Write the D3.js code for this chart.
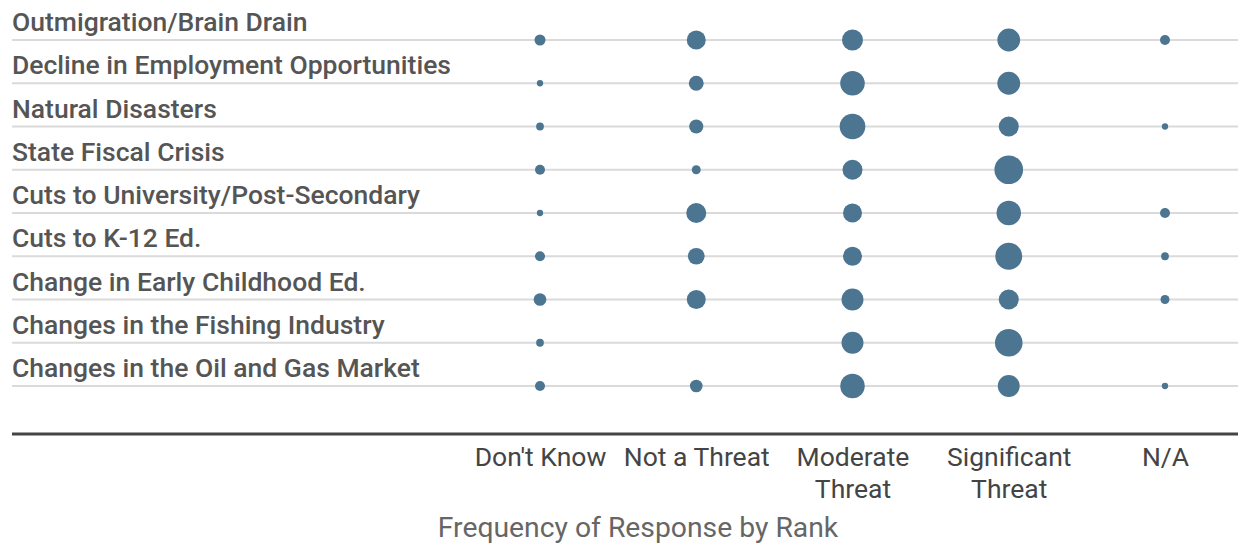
<!DOCTYPE html>
<html>
<head>
<meta charset="utf-8">
<script src="https://cdn.jsdelivr.net/npm/d3@7"></script>
<style>
  body { margin: 0; background: #fff; }
  svg { display: block; font-family: Roboto, sans-serif; }
</style>
</head>
<body>
<div id="chart"></div>
<script>
// threats, top to bottom
const threats = [
    "Outmigration/Brain Drain",
    "Decline in Employment Opportunities",
    "Natural Disasters",
    "State Fiscal Crisis",
    "Cuts to University/Post-Secondary",
    "Cuts to K-12 Ed.",
    "Change in Early Childhood Ed.",
    "Changes in the Fishing Industry",
    "Changes in the Oil and Gas Market"
];

const ranks = ["Don't Know", "Not a Threat", "Moderate Threat", "Significant Threat", "N/A"];
const rankLabels = [["Don't Know"], ["Not a Threat"], ["Moderate", "Threat"], ["Significant", "Threat"], ["N/A"]];

// frequency of response, one array per rank (same order as threats)
const dontKnow    = [3, 1, 1.5, 2.5, 1, 2.5, 4, 1.5, 2.5];
const notThreat   = [9, 5.5, 5, 2, 10, 7, 9, 0, 4];
const moderate    = [11, 15, 16.5, 10, 9, 9, 12, 12, 15];
const significant = [13, 13, 10, 20.5, 15, 18, 10, 19, 12];
const notApplic   = [2.5, 0, 1, 0, 2.5, 1.5, 2, 0, 1];

const series = [dontKnow, notThreat, moderate, significant, notApplic];

const width = 1238, height = 546;

const svg = d3.select("#chart")
    .append("svg")
    .attr("width", width)
    .attr("height", height);

let x = d3.scalePoint()
    .domain(ranks)
    .range([540, 1165]);

let y = d3.scalePoint()
    .domain(threats)
    .range([40, 386]);

let r = d3.scaleSqrt()
    .domain([0, 21])
    .range([0, 14.5]);

// row lines
svg.append("g")
    .selectAll("line")
    .data(threats)
    .join("line")
    .attr("x1", 12)
    .attr("x2", width)
    .attr("y1", d => y(d))
    .attr("y2", d => y(d))
    .attr("stroke", "#dadada")
    .attr("stroke-width", 2);

// row labels sit above the line
svg.append("g")
    .selectAll("text")
    .data(threats)
    .join("text")
    .attr("x", 12)
    .attr("y", d => y(d) - 9)
    .attr("font-size", 26.5)
    .attr("font-weight", 500)
    .attr("fill", "#555")
    .text(d => d);

// bubbles
let cells = [];
ranks.forEach((rk, j) => {
    threats.forEach((t, i) => {
        if (series[j][i] > 0) cells.push({ rank: rk, threat: t, value: series[j][i] });
    });
});

svg.append("g")
    .selectAll("circle")
    .data(cells)
    .join("circle")
    .attr("cx", d => x(d.rank))
    .attr("cy", d => y(d.threat))
    .attr("r", d => r(d.value))
    .attr("fill", "#4c7592");

// bottom axis
svg.append("line")
    .attr("x1", 12)
    .attr("x2", width)
    .attr("y1", 434)
    .attr("y2", 434)
    .attr("stroke", "#444")
    .attr("stroke-width", 3);

let xAxis = svg.append("g")
    .attr("transform", "translate(0,434)")
    .call(d3.axisBottom(x).tickSize(0).tickFormat(""));

xAxis.select(".domain").remove();

xAxis.selectAll(".tick text").remove();

xAxis.selectAll(".tick")
    .append("text")
    .attr("text-anchor", "middle")
    .attr("font-size", 26.5)
    .attr("fill", "#444")
    .attr("font-family", "Roboto, sans-serif")
    .each(function(d, i) {
        d3.select(this).selectAll("tspan")
            .data(rankLabels[i])
            .join("tspan")
            .attr("x", 0)
            .attr("y", (l, k) => 32 + k * 32)
            .text(l => l);
    });

svg.append("text")
    .attr("x", 638)
    .attr("y", 537)
    .attr("text-anchor", "middle")
    .attr("font-size", 28.3)
    .attr("font-weight", 400)
    .attr("fill", "#666")
    .text("Frequency of Response by Rank");
</script>
</body>
</html>
